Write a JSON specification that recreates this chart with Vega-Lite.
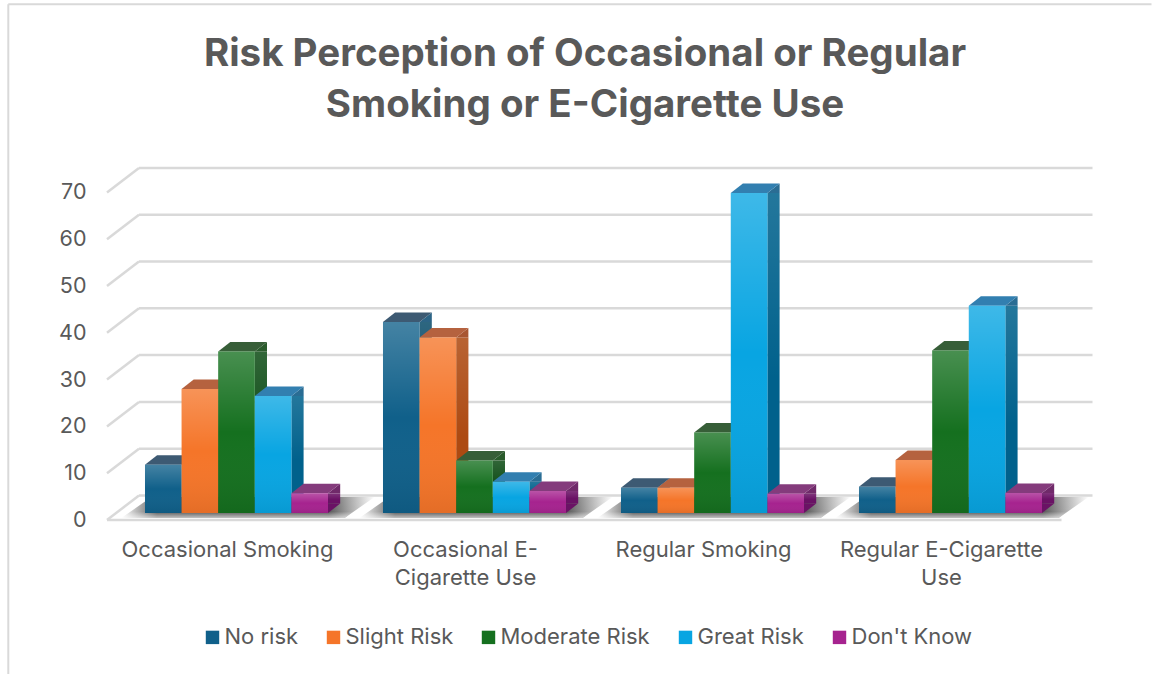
{
  "$schema": "https://vega.github.io/schema/vega-lite/v6.json",
  "autosize": "none",
  "width": 952,
  "height": 327.6,
  "padding": {"left": 117.5, "top": 185.4, "right": 82.5, "bottom": 161},
  "background": "white",
  "title": {
    "text": ["Risk Perception of Occasional or Regular", "Smoking or E-Cigarette Use"],
    "anchor": "middle",
    "dx": -8.5,
    "offset": -122,
    "font": "Inter",
    "fontSize": 38.5,
    "fontWeight": 700,
    "lineHeight": 51,
    "color": "#595959"
  },
  "config": {"view": {"stroke": null}},
  "datasets": {
    "survey": [
      {"use": "Occasional Smoking", "risk": "No risk", "pct": 10.3},
      {"use": "Occasional Smoking", "risk": "Slight Risk", "pct": 26.5},
      {"use": "Occasional Smoking", "risk": "Moderate Risk", "pct": 34.5},
      {"use": "Occasional Smoking", "risk": "Great Risk", "pct": 25},
      {"use": "Occasional Smoking", "risk": "Don't Know", "pct": 4.2},
      {"use": "Occasional E-Cigarette Use", "risk": "No risk", "pct": 40.8},
      {"use": "Occasional E-Cigarette Use", "risk": "Slight Risk", "pct": 37.5},
      {"use": "Occasional E-Cigarette Use", "risk": "Moderate Risk", "pct": 11.2},
      {"use": "Occasional E-Cigarette Use", "risk": "Great Risk", "pct": 6.7},
      {"use": "Occasional E-Cigarette Use", "risk": "Don't Know", "pct": 4.7},
      {"use": "Regular Smoking", "risk": "No risk", "pct": 5.4},
      {"use": "Regular Smoking", "risk": "Slight Risk", "pct": 5.4},
      {"use": "Regular Smoking", "risk": "Moderate Risk", "pct": 17.2},
      {"use": "Regular Smoking", "risk": "Great Risk", "pct": 68.4},
      {"use": "Regular Smoking", "risk": "Don't Know", "pct": 4.1},
      {"use": "Regular E-Cigarette Use", "risk": "No risk", "pct": 5.6},
      {"use": "Regular E-Cigarette Use", "risk": "Slight Risk", "pct": 11.3},
      {"use": "Regular E-Cigarette Use", "risk": "Moderate Risk", "pct": 34.7},
      {"use": "Regular E-Cigarette Use", "risk": "Great Risk", "pct": 44.3},
      {"use": "Regular E-Cigarette Use", "risk": "Don't Know", "pct": 4.3}
    ],
    "ticks": [{"v": 0}, {"v": 10}, {"v": 20}, {"v": 30}, {"v": 40}, {"v": 50}, {"v": 60}, {"v": 70}],
    "edge": [{"edge": "frame"}]
  },
  "data": {"name": "survey"},
  "resolve": {"scale": {"color": "independent", "xOffset": "independent"}, "axis": {"x": "independent", "y": "independent"}},
  "layer": [
    {
      "data": {"name": "edge"},
      "mark": {"type": "rule", "color": "#d9d9d9", "strokeWidth": 2, "xOffset": -136.7, "x2Offset": 201},
      "encoding": {
        "x": {"datum": "Occasional Smoking", "bandPosition": 0, "scale": {"domain": ["Occasional Smoking", "Occasional E-Cigarette Use", "Regular Smoking", "Regular E-Cigarette Use"], "paddingInner": 0.231, "paddingOuter": 0.1155}, "axis": null},
        "x2": {"datum": "Regular E-Cigarette Use"},
        "y": {"datum": 108.7, "type": "quantitative", "scale": {"domain": [0, 70], "nice": false}, "axis": null}
      }
    },
    {
      "data": {"name": "edge"},
      "mark": {"type": "rule", "color": "#d9d9d9", "strokeWidth": 2, "xOffset": -136.7},
      "encoding": {
        "x": {"datum": "Occasional Smoking", "bandPosition": 0, "axis": null},
        "y": {"datum": 108.7, "type": "quantitative", "axis": null},
        "y2": {"datum": -34.6}
      }
    },
    {
      "data": {"name": "ticks"},
      "mark": {"type": "rule", "color": "#d9d9d9", "strokeWidth": 2.5, "xOffset": -6, "x2Offset": 142, "yOffset": -17.5},
      "encoding": {
        "x": {"datum": "Occasional Smoking", "bandPosition": 0, "axis": null},
        "x2": {"datum": "Regular E-Cigarette Use"},
        "y": {"field": "v", "type": "quantitative", "axis": null}
      }
    },
    {
      "data": {"name": "ticks"},
      "mark": {"type": "point", "filled": false, "opacity": 1, "stroke": "#d9d9d9", "strokeWidth": 2.5, "size": 10000, "shape": "M-0.76,0.14L-0.12,-0.35"},
      "encoding": {
        "x": {"datum": "Occasional Smoking", "bandPosition": 0, "axis": null},
        "y": {"field": "v", "type": "quantitative", "axis": null}
      }
    },
    {
      "data": {"name": "edge"},
      "mark": {"type": "rule", "color": "#d9d9d9", "strokeWidth": 2.5, "xOffset": -38, "x2Offset": 111, "yOffset": 7},
      "encoding": {
        "x": {"datum": "Occasional Smoking", "bandPosition": 0, "axis": null},
        "x2": {"datum": "Regular E-Cigarette Use"},
        "y": {"datum": 0, "type": "quantitative", "axis": null}
      }
    },
    {
      "transform": [{"filter": "datum.risk === 'No risk'"}],
      "mark": {
        "type": "point", "filled": true, "opacity": 1, "size": 10000,
        "shape": "M-2.3,0.1L2.16,0.1L2.76,-0.32L-1.7,-0.32Z",
        "fill": {"gradient": "linear", "x1": 0, "y1": 0, "x2": 1, "y2": 0, "stops": [
          {"offset": 0, "color": "rgba(50,50,50,0)"},
          {"offset": 0.14, "color": "rgba(50,50,50,1)"},
          {"offset": 0.82, "color": "rgba(50,50,50,1)"},
          {"offset": 1, "color": "rgba(50,50,50,0)"}
        ]}
      },
      "encoding": {
        "x": {"field": "use", "type": "nominal", "axis": null},
        "y": {"datum": 0, "type": "quantitative", "axis": null}
      }
    },
    {
      "transform": [{"filter": "datum.risk === 'No risk'"}],
      "mark": {
        "type": "point", "filled": true, "opacity": 1, "size": 10000,
        "shape": "M-2.3,0.1L2.16,0.1L2.76,-0.32L-1.7,-0.32Z",
        "fill": {"gradient": "linear", "x1": 0, "y1": 0, "x2": 0, "y2": 1, "stops": [
          {"offset": 0, "color": "rgba(255,255,255,0.25)"},
          {"offset": 0.7, "color": "rgba(255,255,255,0.2)"},
          {"offset": 1, "color": "rgba(255,255,255,0.7)"}
        ]}
      },
      "encoding": {
        "x": {"field": "use", "type": "nominal", "axis": null},
        "y": {"datum": 0, "type": "quantitative", "axis": null}
      }
    },
    {
      "mark": {"type": "bar", "width": 12.2, "y2Offset": -9.5},
      "encoding": {
        "x": {"field": "use", "type": "nominal", "axis": null},
        "xOffset": {"field": "risk", "sort": ["No risk", "Slight Risk", "Moderate Risk", "Great Risk", "Don't Know"], "scale": {"range": [24.4, 207.4]}},
        "y": {"field": "pct", "type": "quantitative", "stack": null, "axis": null},
        "y2": {"datum": 0},
        "color": {
          "field": "risk",
          "legend": null,
          "scale": {
            "domain": ["No risk", "Slight Risk", "Moderate Risk", "Great Risk", "Don't Know"],
            "range": ["#0b4d6b", "#ad4a12", "#0f4d17", "#00618c", "#6a1265"]
          }
        }
      }
    },
    {
      "mark": {
        "type": "bar", "width": 12.2, "y2Offset": -9.5,
        "fill": {"gradient": "linear", "x1": 0, "y1": 0, "x2": 0, "y2": 1, "stops": [
          {"offset": 0, "color": "rgba(255,255,255,0.14)"},
          {"offset": 0.6, "color": "rgba(255,255,255,0)"}
        ]}
      },
      "encoding": {
        "x": {"field": "use", "type": "nominal", "axis": null},
        "xOffset": {"field": "risk", "sort": ["No risk", "Slight Risk", "Moderate Risk", "Great Risk", "Don't Know"], "scale": {"range": [24.4, 207.4]}},
        "y": {"field": "pct", "type": "quantitative", "stack": null, "axis": null},
        "y2": {"datum": 0}
      }
    },
    {
      "mark": {"type": "point", "filled": true, "opacity": 1, "size": 10000, "shape": "M0.367,0L0.61,-0.19L0.61,0Z"},
      "encoding": {
        "x": {"field": "use", "type": "nominal", "axis": null},
        "xOffset": {"field": "risk", "sort": ["No risk", "Slight Risk", "Moderate Risk", "Great Risk", "Don't Know"]},
        "y": {"field": "pct", "type": "quantitative", "stack": null, "axis": null},
        "color": {
          "field": "risk",
          "legend": null,
          "scale": {
            "domain": ["No risk", "Slight Risk", "Moderate Risk", "Great Risk", "Don't Know"],
            "range": ["#2c6486", "#a85632", "#2a5b2c", "#2a6d94", "#702a6a"]
          }
        }
      }
    },
    {
      "mark": {"type": "point", "filled": true, "opacity": 1, "size": 10000, "shape": "M0.367,0L0.367,-0.19L0.61,-0.19Z"},
      "encoding": {
        "x": {"field": "use", "type": "nominal", "axis": null},
        "xOffset": {"field": "risk", "sort": ["No risk", "Slight Risk", "Moderate Risk", "Great Risk", "Don't Know"]},
        "y": {"datum": 0, "type": "quantitative", "axis": null},
        "color": {
          "field": "risk",
          "legend": null,
          "scale": {
            "domain": ["No risk", "Slight Risk", "Moderate Risk", "Great Risk", "Don't Know"],
            "range": ["#0b4d6b", "#ad4a12", "#0f4d17", "#00618c", "#6a1265"]
          }
        }
      }
    },
    {
      "mark": {"type": "point", "filled": true, "opacity": 1, "size": 10000, "shape": "M-0.367,0L0.367,0L0.61,-0.19L-0.124,-0.19Z"},
      "encoding": {
        "x": {"field": "use", "type": "nominal", "axis": null},
        "xOffset": {"field": "risk", "sort": ["No risk", "Slight Risk", "Moderate Risk", "Great Risk", "Don't Know"]},
        "y": {"field": "pct", "type": "quantitative", "stack": null, "axis": null},
        "color": {
          "field": "risk",
          "legend": null,
          "scale": {
            "domain": ["No risk", "Slight Risk", "Moderate Risk", "Great Risk", "Don't Know"],
            "range": ["#3d5a73", "#b5623f", "#375e38", "#327fb0", "#843b7c"]
          }
        }
      }
    },
    {
      "mark": {"type": "bar"},
      "encoding": {
        "x": {
          "field": "use",
          "type": "nominal",
          "title": null,
          "axis": {
            "labelAngle": 0,
            "labelOffset": -9,
            "labelPadding": 26.5,
            "labelFont": "Inter",
            "labelFontSize": 22,
            "labelColor": "#595959",
            "labelLineHeight": 28,
            "labelLimit": 400,
            "labelOverlap": false,
            "ticks": false,
            "domain": false,
            "grid": false,
            "labelExpr": "datum.label === 'Occasional E-Cigarette Use' ? ['Occasional E-', 'Cigarette Use'] : datum.label === 'Regular E-Cigarette Use' ? ['Regular E-Cigarette', 'Use'] : datum.label"
          }
        },
        "xOffset": {"field": "risk", "sort": ["No risk", "Slight Risk", "Moderate Risk", "Great Risk", "Don't Know"]},
        "y": {
          "field": "pct",
          "type": "quantitative",
          "stack": null,
          "title": null,
          "axis": {
            "values": [0, 10, 20, 30, 40, 50, 60, 70],
            "labelOffset": 7.5,
            "labelPadding": 31.5,
            "labelFont": "Inter",
            "labelFontSize": 21.5,
            "labelColor": "#595959",
            "ticks": false,
            "domain": false,
            "grid": false
          }
        },
        "color": {
          "field": "risk",
          "title": null,
          "scale": {
            "domain": ["No risk", "Slight Risk", "Moderate Risk", "Great Risk", "Don't Know"],
            "range": ["#10608a", "#f57529", "#15701f", "#08a5e2", "#a6238f"]
          },
          "legend": {
            "orient": "none",
            "legendX": 84,
            "legendY": 441,
            "direction": "horizontal",
            "columns": 5,
            "padding": 0,
            "symbolType": "square",
            "symbolSize": 180,
            "symbolStrokeWidth": 0,
            "symbolOpacity": 1,
            "labelFont": "Inter",
            "labelFontSize": 22,
            "labelColor": "#595959",
            "labelOffset": 1,
            "labelLimit": 300,
            "columnPadding": 24,
            "encoding": {
              "symbols": {
                "update": {
                  "fill": {
                    "signal": "{gradient: 'linear', x1: 0, y1: 0, x2: 0, y2: 1, stops: [{offset: 0, color: datum.value === 'No risk' ? '#3f7597' : datum.value === 'Slight Risk' ? '#f0885c' : datum.value === 'Moderate Risk' ? '#4f8553' : datum.value === 'Great Risk' ? '#48ade6' : '#b455a8'}, {offset: 0.7, color: datum.value === 'No risk' ? '#10608a' : datum.value === 'Slight Risk' ? '#f57529' : datum.value === 'Moderate Risk' ? '#15701f' : datum.value === 'Great Risk' ? '#08a5e2' : '#a6238f'}]}"
                  }
                }
              }
            }
          }
        }
      }
    },
    {
      "mark": {
        "type": "bar",
        "fill": {"gradient": "linear", "x1": 0, "y1": 0, "x2": 0, "y2": 1, "stops": [
          {"offset": 0, "color": "rgba(255,255,255,0.22)"},
          {"offset": 0.5, "color": "rgba(255,255,255,0)"},
          {"offset": 1, "color": "rgba(0,0,0,0.07)"}
        ]}
      },
      "encoding": {
        "x": {"field": "use", "type": "nominal", "axis": null},
        "xOffset": {"field": "risk", "sort": ["No risk", "Slight Risk", "Moderate Risk", "Great Risk", "Don't Know"]},
        "y": {"field": "pct", "type": "quantitative", "stack": null, "axis": null}
      }
    }
  ]
}
